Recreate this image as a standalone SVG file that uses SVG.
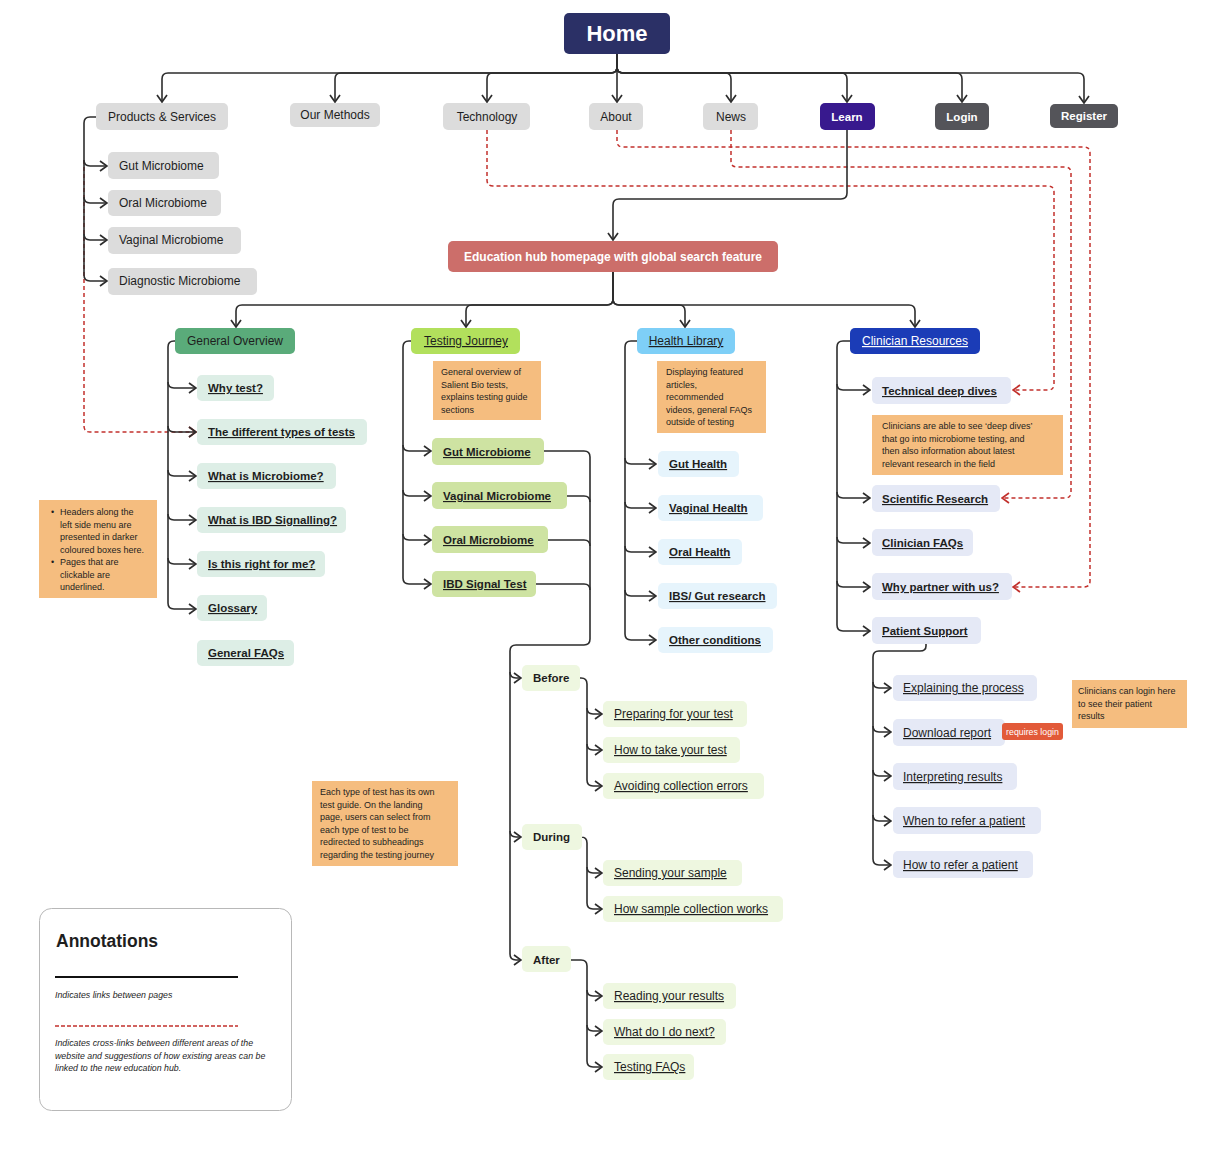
<svg xmlns="http://www.w3.org/2000/svg" width="1217" height="1160" viewBox="0 0 1217 1160">
<style>
text{font-family:"Liberation Sans",Arial,sans-serif;fill:#1e1e1e}
.c{stroke:#2d2d2d;stroke-width:1.6;fill:none}
.r{stroke:#c2302c;stroke-width:1.5;fill:none;stroke-dasharray:4 3}
.nav{fill:#dcdcdc}
.t12{font-size:12px}
.mid{text-anchor:middle}
.b{font-weight:bold}
.u{text-decoration:underline}
.w{fill:#ffffff}
.go{fill:#ddeee6}
.tj{fill:#cee3a2}
.ph{fill:#eef7e0}
.hl{fill:#e6f4fc}
.cr{fill:#e5e9f6}
.note{fill:#f5bd7f}
.nt{font-size:9px}
.it{font-size:8.8px;font-style:italic}
</style>
<defs>
<marker id="a" viewBox="0 0 12 12" refX="11" refY="6" markerWidth="12" markerHeight="12" markerUnits="userSpaceOnUse" orient="auto"><path d="M4,1 L11,6 L4,11" fill="none" stroke="#2d2d2d" stroke-width="1.7"/></marker>
<marker id="ar" viewBox="0 0 12 12" refX="11" refY="6" markerWidth="12" markerHeight="12" markerUnits="userSpaceOnUse" orient="auto"><path d="M4,1 L11,6 L4,11" fill="none" stroke="#c2302c" stroke-width="1.7"/></marker>
</defs>
<rect width="1217" height="1160" fill="#ffffff"/>

<g id="connectors">
<path class="r" d="M84,160 V426 Q84,432 90,432 H196" marker-end="url(#ar)"/>
<path class="r" d="M487,130 V180 Q487,186 493,186 H1048 Q1054,186 1054,192 V384 Q1054,390 1048,390 H1013" marker-end="url(#ar)"/>
<path class="r" d="M731,130 V161 Q731,167 737,167 H1065 Q1071,167 1071,173 V492 Q1071,498 1065,498 H1002" marker-end="url(#ar)"/>
<path class="r" d="M617,130 V141 Q617,147 623,147 H1084 Q1090,147 1090,153 V581 Q1090,587 1084,587 H1013" marker-end="url(#ar)"/>
<path class="c" d="M617,54 V67 Q617,73 611,73 H168 Q162,73 162,79 V102" marker-end="url(#a)"/>
<path class="c" d="M617,54 V67 Q617,73 611,73 H341 Q335,73 335,79 V102" marker-end="url(#a)"/>
<path class="c" d="M617,54 V67 Q617,73 611,73 H493 Q487,73 487,79 V102" marker-end="url(#a)"/>
<path class="c" d="M617,54 V102" marker-end="url(#a)"/>
<path class="c" d="M617,54 V67 Q617,73 623,73 H725 Q731,73 731,79 V102" marker-end="url(#a)"/>
<path class="c" d="M617,54 V67 Q617,73 623,73 H841 Q847,73 847,79 V102" marker-end="url(#a)"/>
<path class="c" d="M617,54 V67 Q617,73 623,73 H956 Q962,73 962,79 V102" marker-end="url(#a)"/>
<path class="c" d="M617,54 V67 Q617,73 623,73 H1078 Q1084,73 1084,79 V103" marker-end="url(#a)"/>
<path class="c" d="M847,130 V193 Q847,199 841,199 H619 Q613,199 613,205 V240" marker-end="url(#a)"/>
<path class="c" d="M613,272 V299 Q613,305 607,305 H242 Q236,305 236,311 V327" marker-end="url(#a)"/>
<path class="c" d="M613,272 V299 Q613,305 607,305 H472 Q466,305 466,311 V327" marker-end="url(#a)"/>
<path class="c" d="M613,272 V299 Q613,305 619,305 H679 Q685,305 685,311 V327" marker-end="url(#a)"/>
<path class="c" d="M613,272 V299 Q613,305 619,305 H909 Q915,305 915,311 V327" marker-end="url(#a)"/>
<path class="c" d="M96,117 H90 Q84,117 84,123 V275 Q84,281 90,281 H107" marker-end="url(#a)"/>
<path class="c" d="M84,160 Q84,166 90,166 H107" marker-end="url(#a)"/>
<path class="c" d="M84,197 Q84,203 90,203 H107" marker-end="url(#a)"/>
<path class="c" d="M84,234 Q84,240 90,240 H107" marker-end="url(#a)"/>
<path class="c" d="M175,341 H174 Q168,341 168,347 V603 Q168,609 174,609 H196" marker-end="url(#a)"/>
<path class="c" d="M168,382 Q168,388 174,388 H196" marker-end="url(#a)"/>
<path class="c" d="M168,426 Q168,432 174,432 H196" marker-end="url(#a)"/>
<path class="c" d="M168,470 Q168,476 174,476 H196" marker-end="url(#a)"/>
<path class="c" d="M168,514 Q168,520 174,520 H196" marker-end="url(#a)"/>
<path class="c" d="M168,558 Q168,564 174,564 H196" marker-end="url(#a)"/>
<path class="c" d="M411,341 H409 Q403,341 403,347 V578 Q403,584 409,584 H431" marker-end="url(#a)"/>
<path class="c" d="M403,445 Q403,451 409,451 H431" marker-end="url(#a)"/>
<path class="c" d="M403,490 Q403,496 409,496 H431" marker-end="url(#a)"/>
<path class="c" d="M403,534 Q403,540 409,540 H431" marker-end="url(#a)"/>
<path class="c" d="M544,451 H584 Q590,451 590,457 V639 Q590,645 584,645 H516 Q510,645 510,651 V954 Q510,960 516,960 H521" marker-end="url(#a)"/>
<path class="c" d="M567,496 H584 Q590,496 590,502"/>
<path class="c" d="M548,540 H584 Q590,540 590,546"/>
<path class="c" d="M536,584 H584 Q590,584 590,590"/>
<path class="c" d="M510,672 Q510,678 516,678 H521" marker-end="url(#a)"/>
<path class="c" d="M510,831 Q510,837 516,837 H521" marker-end="url(#a)"/>
<path class="c" d="M580,678 H581 Q587,678 587,684 V780 Q587,786 593,786 H602" marker-end="url(#a)"/>
<path class="c" d="M587,708 Q587,714 593,714 H602" marker-end="url(#a)"/>
<path class="c" d="M587,744 Q587,750 593,750 H602" marker-end="url(#a)"/>
<path class="c" d="M582,837 H581 Q587,837 587,843 V903 Q587,909 593,909 H602" marker-end="url(#a)"/>
<path class="c" d="M587,867 Q587,873 593,873 H602" marker-end="url(#a)"/>
<path class="c" d="M571,960 H581 Q587,960 587,966 V1061 Q587,1067 593,1067 H602" marker-end="url(#a)"/>
<path class="c" d="M587,990 Q587,996 593,996 H602" marker-end="url(#a)"/>
<path class="c" d="M587,1025 Q587,1031 593,1031 H602" marker-end="url(#a)"/>
<path class="c" d="M637,341 H631 Q625,341 625,347 V634 Q625,640 631,640 H656" marker-end="url(#a)"/>
<path class="c" d="M625,458 Q625,464 631,464 H656" marker-end="url(#a)"/>
<path class="c" d="M625,502 Q625,508 631,508 H656" marker-end="url(#a)"/>
<path class="c" d="M625,546 Q625,552 631,552 H656" marker-end="url(#a)"/>
<path class="c" d="M625,590 Q625,596 631,596 H656" marker-end="url(#a)"/>
<path class="c" d="M850,341 H843 Q837,341 837,347 V625 Q837,631 843,631 H870" marker-end="url(#a)"/>
<path class="c" d="M837,384 Q837,390 843,390 H870" marker-end="url(#a)"/>
<path class="c" d="M837,492 Q837,498 843,498 H870" marker-end="url(#a)"/>
<path class="c" d="M837,537 Q837,543 843,543 H870" marker-end="url(#a)"/>
<path class="c" d="M837,581 Q837,587 843,587 H870" marker-end="url(#a)"/>
<path class="c" d="M926,644 V646 Q926,651 920,651 H879 Q873,651 873,657 V859 Q873,865 879,865 H891" marker-end="url(#a)"/>
<path class="c" d="M873,682 Q873,688 879,688 H891" marker-end="url(#a)"/>
<path class="c" d="M873,726 Q873,732 879,732 H891" marker-end="url(#a)"/>
<path class="c" d="M873,770 Q873,776 879,776 H891" marker-end="url(#a)"/>
<path class="c" d="M873,815 Q873,821 879,821 H891" marker-end="url(#a)"/>
</g>

<g id="home"><rect x="564" y="13" width="106" height="41" rx="5" fill="#2b3066"/><text x="617" y="41" class="mid b w" font-size="22">Home</text></g>

<g id="nav-products"><rect class="nav" x="96" y="103" width="132" height="27" rx="5"/><text x="162" y="121" class="t12 mid">Products &amp; Services</text></g>
<g id="nav-methods"><rect class="nav" x="290" y="103" width="90" height="24" rx="5"/><text x="335" y="119" class="t12 mid">Our Methods</text></g>
<g id="nav-tech"><rect class="nav" x="443" y="103" width="87" height="27" rx="5"/><text x="487" y="121" class="t12 mid">Technology</text></g>
<g id="nav-about"><rect class="nav" x="589" y="103" width="54" height="27" rx="5"/><text x="616" y="121" class="t12 mid">About</text></g>
<g id="nav-news"><rect class="nav" x="703" y="103" width="55" height="27" rx="5"/><text x="731" y="121" class="t12 mid">News</text></g>
<g id="nav-learn"><rect x="820" y="103" width="55" height="27" rx="5" fill="#38198e"/><text x="847" y="121" class="mid b w" font-size="11.5">Learn</text></g>
<g id="nav-login"><rect x="935" y="103" width="54" height="27" rx="5" fill="#545459"/><text x="962" y="121" class="mid b w" font-size="11.5">Login</text></g>
<g id="nav-register"><rect x="1050" y="104" width="68" height="24" rx="5" fill="#545459"/><text x="1084" y="120" class="mid b w" font-size="11.5">Register</text></g>

<g id="ps-gut"><rect class="nav" x="108" y="152" width="111" height="27" rx="5"/><text x="119" y="170" class="t12">Gut Microbiome</text></g>
<g id="ps-oral"><rect class="nav" x="108" y="190" width="113" height="26" rx="5"/><text x="119" y="207" class="t12">Oral Microbiome</text></g>
<g id="ps-vaginal"><rect class="nav" x="108" y="227" width="133" height="27" rx="5"/><text x="119" y="244" class="t12">Vaginal Microbiome</text></g>
<g id="ps-diag"><rect class="nav" x="108" y="268" width="149" height="27" rx="5"/><text x="119" y="285" class="t12">Diagnostic Microbiome</text></g>

<g id="hub"><rect x="448" y="241" width="330" height="31" rx="5" fill="#cc6e6a"/><text x="613" y="261" class="t12 mid b w">Education hub homepage with global search feature</text></g>

<g id="col-general"><rect x="175" y="328" width="120" height="26" rx="5" fill="#5aab7a"/><text x="235" y="345" class="t12 mid">General Overview</text></g>
<g id="col-testing"><rect x="411" y="328" width="109" height="26" rx="5" fill="#b2e05c"/><text x="466" y="345" class="t12 mid u">Testing Journey</text></g>
<g id="col-health"><rect x="637" y="328" width="98" height="26" rx="5" fill="#7ecff7"/><text x="686" y="345" class="t12 mid u">Health Library</text></g>
<g id="col-clinician"><rect x="850" y="328" width="130" height="26" rx="5" fill="#1b3cb7"/><text x="915" y="345" class="t12 mid u w">Clinician Resources</text></g>

<g id="go-why"><rect class="go" x="197" y="375" width="77" height="26" rx="5"/><text x="208" y="392" class="b u" font-size="11.5">Why test?</text></g>
<g id="go-types"><rect class="go" x="197" y="419" width="170" height="26" rx="5"/><text x="208" y="436" class="b u" font-size="11.5">The different types of tests</text></g>
<g id="go-micro"><rect class="go" x="197" y="463" width="139" height="26" rx="5"/><text x="208" y="480" class="b u" font-size="11.5">What is Microbiome?</text></g>
<g id="go-ibd"><rect class="go" x="197" y="507" width="149" height="26" rx="5"/><text x="208" y="524" class="b u" font-size="11.5">What is IBD Signalling?</text></g>
<g id="go-right"><rect class="go" x="197" y="551" width="128" height="26" rx="5"/><text x="208" y="568" class="b u" font-size="11.5">Is this right for me?</text></g>
<g id="go-glossary"><rect class="go" x="197" y="595" width="70" height="26" rx="5"/><text x="208" y="612" class="b u" font-size="11.5">Glossary</text></g>
<g id="go-faqs"><rect class="go" x="197" y="640" width="97" height="26" rx="5"/><text x="208" y="657" class="b u" font-size="11.5">General FAQs</text></g>

<g id="note-left"><rect class="note" x="39" y="500" width="118" height="98"/>
<text class="nt"><tspan x="51" y="515">•</tspan><tspan x="60" y="515">Headers along the</tspan><tspan x="60" y="527.5">left side menu are</tspan><tspan x="60" y="540">presented in darker</tspan><tspan x="60" y="552.5">coloured boxes here.</tspan><tspan x="51" y="565">•</tspan><tspan x="60" y="565">Pages that are</tspan><tspan x="60" y="577.5">clickable are</tspan><tspan x="60" y="590">underlined.</tspan></text></g>

<g id="note-testing"><rect class="note" x="433" y="361" width="108" height="59"/>
<text class="nt"><tspan x="441" y="375">General overview of</tspan><tspan x="441" y="387.5">Salient Bio tests,</tspan><tspan x="441" y="400">explains testing guide</tspan><tspan x="441" y="412.5">sections</tspan></text></g>

<g id="tj-gut"><rect class="tj" x="432" y="438" width="112" height="27" rx="5"/><text x="443" y="456" class="b u" font-size="11.5">Gut Microbiome</text></g>
<g id="tj-vaginal"><rect class="tj" x="432" y="482" width="135" height="27" rx="5"/><text x="443" y="500" class="b u" font-size="11.5">Vaginal Microbiome</text></g>
<g id="tj-oral"><rect class="tj" x="432" y="526" width="116" height="27" rx="5"/><text x="443" y="544" class="b u" font-size="11.5">Oral Microbiome</text></g>
<g id="tj-ibd"><rect class="tj" x="432" y="571" width="104" height="26" rx="5"/><text x="443" y="588" class="b u" font-size="11.5">IBD Signal Test</text></g>

<g id="ph-before"><rect class="ph" x="522" y="665" width="58" height="26" rx="5"/><text x="533" y="682" class="b" font-size="11.5">Before</text></g>
<g id="ph-during"><rect class="ph" x="522" y="824" width="60" height="26" rx="5"/><text x="533" y="841" class="b" font-size="11.5">During</text></g>
<g id="ph-after"><rect class="ph" x="522" y="946" width="49" height="26" rx="5"/><text x="533" y="964" class="b" font-size="11.5">After</text></g>

<g id="b-prep"><rect class="ph" x="603" y="701" width="144" height="26" rx="5"/><text x="614" y="718" class="t12 u">Preparing for your test</text></g>
<g id="b-how"><rect class="ph" x="603" y="737" width="137" height="26" rx="5"/><text x="614" y="754" class="t12 u">How to take your test</text></g>
<g id="b-avoid"><rect class="ph" x="603" y="773" width="161" height="26" rx="5"/><text x="614" y="790" class="t12 u">Avoiding collection errors</text></g>
<g id="d-send"><rect class="ph" x="603" y="860" width="139" height="26" rx="5"/><text x="614" y="877" class="t12 u">Sending your sample</text></g>
<g id="d-how"><rect class="ph" x="603" y="896" width="180" height="26" rx="5"/><text x="614" y="913" class="t12 u">How sample collection works</text></g>
<g id="a-read"><rect class="ph" x="603" y="983" width="133" height="26" rx="5"/><text x="614" y="1000" class="t12 u">Reading your results</text></g>
<g id="a-next"><rect class="ph" x="603" y="1019" width="123" height="26" rx="5"/><text x="614" y="1036" class="t12 u">What do I do next?</text></g>
<g id="a-faqs"><rect class="ph" x="603" y="1054" width="91" height="26" rx="5"/><text x="614" y="1071" class="t12 u">Testing FAQs</text></g>

<g id="note-health"><rect class="note" x="657" y="361" width="109" height="72"/>
<text class="nt"><tspan x="666" y="375">Displaying featured</tspan><tspan x="666" y="387.5">articles,</tspan><tspan x="666" y="400">recommended</tspan><tspan x="666" y="412.5">videos, general FAQs</tspan><tspan x="666" y="425">outside of testing</tspan></text></g>

<g id="hl-gut"><rect class="hl" x="658" y="451" width="81" height="26" rx="5"/><text x="669" y="468" class="b u" font-size="11.5">Gut Health</text></g>
<g id="hl-vaginal"><rect class="hl" x="658" y="495" width="105" height="26" rx="5"/><text x="669" y="512" class="b u" font-size="11.5">Vaginal Health</text></g>
<g id="hl-oral"><rect class="hl" x="658" y="539" width="84" height="26" rx="5"/><text x="669" y="556" class="b u" font-size="11.5">Oral Health</text></g>
<g id="hl-ibs"><rect class="hl" x="658" y="583" width="119" height="26" rx="5"/><text x="669" y="600" class="b u" font-size="11.5">IBS/ Gut research</text></g>
<g id="hl-other"><rect class="hl" x="658" y="627" width="115" height="26" rx="5"/><text x="669" y="644" class="b u" font-size="11.5">Other conditions</text></g>

<g id="cr-tech"><rect class="cr" x="872" y="377" width="139" height="27" rx="5"/><text x="882" y="395" class="b u" font-size="11.5">Technical deep dives</text></g>
<g id="note-clinician"><rect class="note" x="872" y="415" width="191" height="60"/>
<text class="nt"><tspan x="882" y="429">Clinicians are able to see ‘deep dives’</tspan><tspan x="882" y="441.5">that go into microbiome testing, and</tspan><tspan x="882" y="454">then also information about latest</tspan><tspan x="882" y="466.5">relevant research in the field</tspan></text></g>
<g id="cr-sci"><rect class="cr" x="872" y="485" width="128" height="27" rx="5"/><text x="882" y="503" class="b u" font-size="11.5">Scientific Research</text></g>
<g id="cr-faqs"><rect class="cr" x="872" y="529" width="101" height="27" rx="5"/><text x="882" y="547" class="b u" font-size="11.5">Clinician FAQs</text></g>
<g id="cr-partner"><rect class="cr" x="872" y="573" width="140" height="27" rx="5"/><text x="882" y="591" class="b u" font-size="11.5">Why partner with us?</text></g>
<g id="cr-patient"><rect class="cr" x="872" y="617" width="109" height="27" rx="5"/><text x="882" y="635" class="b u" font-size="11.5">Patient Support</text></g>

<g id="ps-explain"><rect class="cr" x="893" y="675" width="144" height="26" rx="5"/><text x="903" y="692" class="t12 u">Explaining the process</text></g>
<g id="ps-download"><rect class="cr" x="893" y="719" width="112" height="27" rx="5"/><text x="903" y="737" class="t12 u">Download report</text>
<rect x="1002" y="723" width="61" height="17" rx="3" fill="#e25a39"/><text x="1032.5" y="735" class="mid w" font-size="8.8">requires login</text></g>
<g id="ps-interp"><rect class="cr" x="893" y="763" width="124" height="27" rx="5"/><text x="903" y="781" class="t12 u">Interpreting results</text></g>
<g id="ps-when"><rect class="cr" x="893" y="807" width="148" height="27" rx="5"/><text x="903" y="825" class="t12 u">When to refer a patient</text></g>
<g id="ps-howrefer"><rect class="cr" x="893" y="851" width="140" height="27" rx="5"/><text x="903" y="869" class="t12 u">How to refer a patient</text></g>

<g id="note-patient"><rect class="note" x="1072" y="680" width="115" height="48"/>
<text class="nt"><tspan x="1078" y="694">Clinicians can login here</tspan><tspan x="1078" y="706.5">to see their patient</tspan><tspan x="1078" y="719">results</tspan></text></g>

<g id="note-guide"><rect class="note" x="312" y="781" width="146" height="85"/>
<text class="nt"><tspan x="320" y="795">Each type of test has its own</tspan><tspan x="320" y="807.5">test guide. On the landing</tspan><tspan x="320" y="820">page, users can select from</tspan><tspan x="320" y="832.5">each type of test to be</tspan><tspan x="320" y="845">redirected to subheadings</tspan><tspan x="320" y="857.5">regarding the testing journey</tspan></text></g>

<g id="annotations">
<rect x="39.5" y="908.5" width="252" height="202" rx="12" fill="#ffffff" stroke="#b8b8b8" stroke-width="1"/>
<text x="56" y="947" class="b" font-size="17.5">Annotations</text>
<line x1="55" y1="977" x2="238" y2="977" stroke="#111111" stroke-width="2"/>
<text x="55" y="998" class="it">Indicates links between pages</text>
<line x1="55" y1="1026" x2="238" y2="1026" stroke="#c2302c" stroke-width="1.5" stroke-dasharray="4 2"/>
<text class="it"><tspan x="55" y="1046">Indicates cross-links between different areas of the</tspan><tspan x="55" y="1058.5">website and suggestions of how existing areas can be</tspan><tspan x="55" y="1071">linked to the new education hub.</tspan></text>
</g>
</svg>
